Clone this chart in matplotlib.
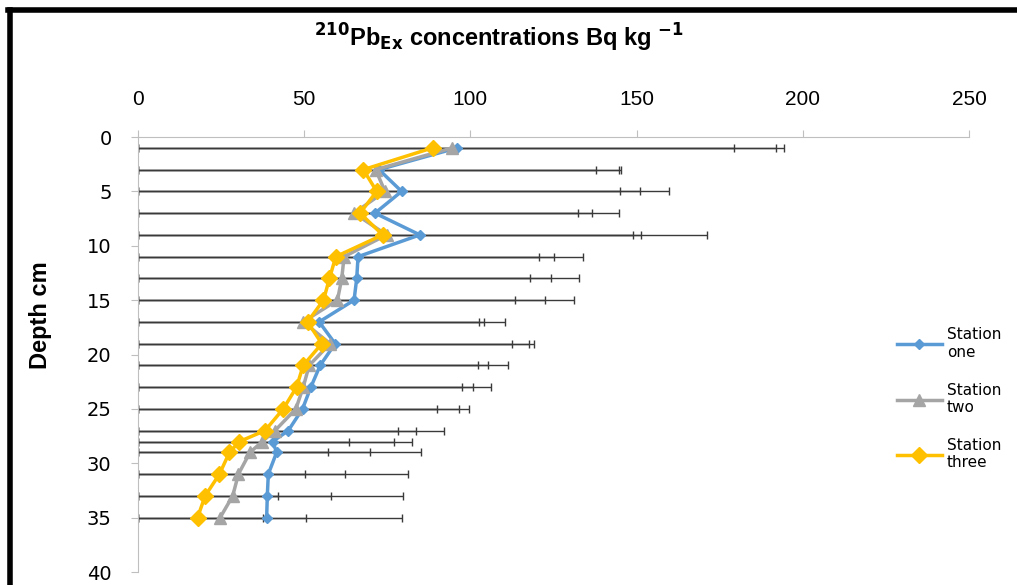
import matplotlib
matplotlib.use('Agg')
import matplotlib.pyplot as plt
from matplotlib.lines import Line2D

depth = [1, 3, 5, 7, 9, 11, 13, 15, 17, 19, 21, 23, 25, 27, 28, 29, 31, 33, 35]

station_one = [96.0, 72.5, 79.3, 71.3, 84.8, 66.2, 65.8, 65.0, 54.5, 59.3, 54.8, 52.0,
               49.5, 45.2, 40.5, 41.7, 39.2, 38.9, 38.7]
station_two = [94.5, 71.5, 74.3, 65.0, 74.8, 62.0, 61.3, 60.0, 49.7, 57.8, 51.5, 49.7,
               47.5, 41.2, 37.4, 33.7, 30.2, 28.5, 24.7]
station_three = [88.6, 67.8, 71.8, 66.8, 73.6, 59.5, 57.6, 55.8, 51.0, 55.3, 49.7, 47.7,
                 43.7, 38.2, 30.5, 27.5, 24.5, 20.2, 17.9]

# right ends of the error bars (left ends all sit at 0)
upper_one = [194.2, 145.2, 159.7, 144.6, 171.3, 133.9, 132.7, 131.2, 110.3, 119.1, 111.3,
             106.3, 99.6, 92.1, 82.4, 85.0, 81.1, 79.6, 79.3]
upper_two = [191.8, 144.8, 150.9, 132.4, 151.2, 125.0, 124.1, 122.3, 102.5, 117.6, 105.3,
             100.9, 96.7, 83.6, 77.0, 69.8, 62.3, 58.2, 50.5]
upper_three = [179.3, 137.7, 144.9, 136.5, 149.0, 120.7, 117.8, 113.5, 104.1, 112.5, 102.2,
               97.5, 89.9, 78.3, 63.5, 57.3, 50.2, 42.0, 37.5]

labels = ["Station\none", "Station\ntwo", "Station\nthree"]
xticks = [0, 50, 100, 150, 200, 250]
yticks = [0, 5, 10, 15, 20, 25, 30, 35, 40]


def main():
    plt.rcParams['mathtext.default'] = 'regular'
    fig = plt.figure(figsize=(10.17, 5.85), dpi=100)
    ax = fig.add_axes([0.1357, 0.0222, 0.8171, 0.7436])

    series = [
        (station_one, upper_one, '#5B9BD5', 'D', 5.5),
        (station_two, upper_two, '#A5A5A5', '^', 8),
        (station_three, upper_three, '#FFC000', 'D', 8),
    ]
    for vals, upper, color, marker, ms in series:
        lo = vals
        hi = [u - v for u, v in zip(upper, vals)]
        ax.errorbar(vals, depth, xerr=[lo, hi], fmt='none', ecolor='#3a3a3a',
                    elinewidth=1, capsize=3, capthick=1, zorder=1)
    handles = []
    for (vals, upper, color, marker, ms), lab in zip(series, labels):
        h, = ax.plot(vals, depth, color=color, marker=marker, markersize=ms,
                     linewidth=2.5, label=lab, zorder=3)
        handles.append(h)

    ax.set_xlim(0, 250)
    ax.set_ylim(40, 0)
    ax.xaxis.tick_top()
    ax.set_xticks(xticks)
    ax.set_yticks(yticks)
    ax.tick_params(axis='x', colors='#BFBFBF', labelcolor='black', length=5, pad=15,
                   labelsize=15)
    ax.tick_params(axis='y', colors='#BFBFBF', labelcolor='black', length=5, pad=14,
                   labelsize=14)
    for t in ax.get_xticklabels():
        t.set_family(['Liberation Sans', 'DejaVu Sans'])
    for t in ax.get_yticklabels():
        t.set_family(['DejaVu Sans'])
    for s in ['right', 'bottom']:
        ax.spines[s].set_visible(False)
    for s in ['top', 'left']:
        ax.spines[s].set_color('#BFBFBF')

    ax.set_ylabel("Depth cm", fontsize=17, fontweight='bold',
                  family=['Liberation Sans', 'DejaVu Sans'])
    ax.yaxis.set_label_coords(-0.103, 0.59)
    fig.text(0.49, 0.935, r'$\mathbf{^{210}}$Pb$\mathbf{_{Ex}}$ concentrations Bq kg $\mathbf{^{-1}}$',
             ha='center', va='center', fontsize=17, fontweight='bold',
             family=['Liberation Sans', 'DejaVu Sans'])

    fig.legend(handles=handles, labels=labels, loc='center left',
               bbox_to_anchor=(0.868, 0.318), frameon=False,
               handlelength=3.0, handletextpad=0.3, labelspacing=1.5,
               prop={'family': ['DejaVu Sans'], 'size': 11})

    # outer chart border
    fig.add_artist(Line2D([0.0095, 0.0095], [0.0, 0.983], color='black', linewidth=4,
                          transform=fig.transFigure))
    fig.add_artist(Line2D([0.0075, 1.0], [0.983, 0.983], color='black', linewidth=4,
                          transform=fig.transFigure))

    fig.savefig("out.png", dpi=100)


if __name__ == "__main__":
    main()
